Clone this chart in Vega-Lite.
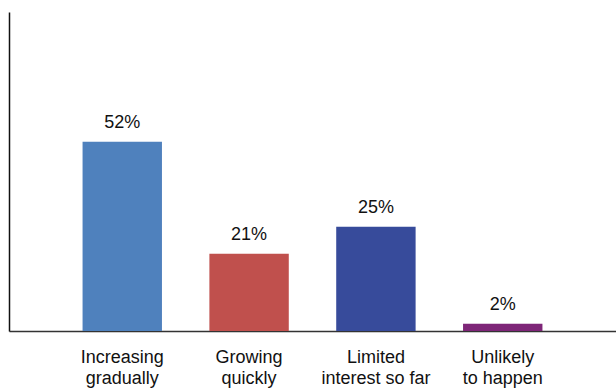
{
  "$schema": "https://vega.github.io/schema/vega-lite/v6.json",
  "autosize": "none",
  "padding": {"left": 9, "top": 12, "right": 0, "bottom": 59},
  "width": 607,
  "height": 319,
  "background": "white",
  "config": {"view": {"stroke": null}},
  "data": {
    "values": [
      {"category": "Increasing gradually", "pct": 52, "label": "52%"},
      {"category": "Growing quickly", "pct": 21.2, "label": "21%"},
      {"category": "Limited interest so far", "pct": 28.6, "label": "25%"},
      {"category": "Unlikely to happen", "pct": 2.0, "label": "2%"}
    ]
  },
  "encoding": {
    "x": {
      "field": "category",
      "type": "nominal",
      "sort": null,
      "scale": {"paddingInner": 0.374, "paddingOuter": 0.58},
      "axis": {
        "title": null,
        "labelAngle": 0,
        "ticks": false,
        "domainColor": "#333",
        "domainWidth": 1.5,
        "labelFont": "Liberation Sans",
        "labelFontSize": 18,
        "labelColor": "#111",
        "labelLineHeight": 21,
        "labelPadding": 17,
        "labelBaseline": "top",
        "labelExpr": "datum.label == 'Limited interest so far' ? ['Limited', 'interest so far'] : datum.label == 'Unlikely to happen' ? ['Unlikely', 'to happen'] : split(datum.label, ' ')"
      }
    },
    "y": {
      "field": "pct",
      "type": "quantitative",
      "scale": {"domain": [0, 87.6], "nice": false, "zero": true},
      "axis": {
        "title": null,
        "labels": false,
        "ticks": false,
        "grid": false,
        "domainColor": "#111",
        "domainWidth": 1.5
      }
    }
  },
  "layer": [
    {
      "mark": {"type": "bar"},
      "encoding": {
        "color": {
          "field": "category",
          "type": "nominal",
          "sort": null,
          "legend": null,
          "scale": {
            "domain": ["Increasing gradually", "Growing quickly", "Limited interest so far", "Unlikely to happen"],
            "range": ["#4F81BD", "#C0504D", "#374B9B", "#7E2678"]
          }
        }
      }
    },
    {
      "mark": {
        "type": "text",
        "baseline": "alphabetic",
        "dy": -14,
        "font": "Liberation Sans",
        "fontSize": 18,
        "color": "#111"
      },
      "encoding": {
        "text": {"field": "label"}
      }
    }
  ]
}
